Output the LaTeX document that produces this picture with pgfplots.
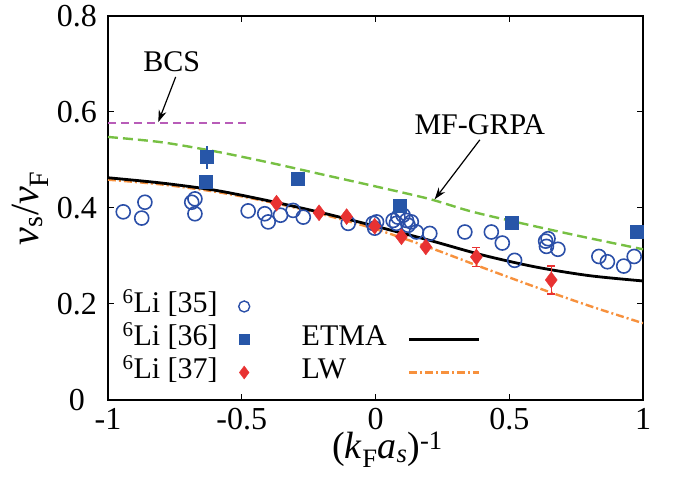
\documentclass[border=0pt]{standalone}
\usepackage{fontspec}
\setmainfont{Liberation Serif}
\usepackage{pgfplots}
\pgfplotsset{compat=1.18}
\usetikzlibrary{arrows.meta}

\definecolor{cblue}{RGB}{43,79,168}
\definecolor{sblue}{RGB}{39,86,168}
\definecolor{dred}{RGB}{232,50,50}
\definecolor{mfgreen}{RGB}{119,192,67}
\definecolor{lworange}{RGB}{247,145,61}
\definecolor{bcspurple}{RGB}{184,92,184}

\pgfplotsset{longline legend/.style={legend image code/.code={\draw[##1] (0pt,0pt) -- (70pt,0pt);}}}

\begin{document}
\begin{tikzpicture}
\path[use as bounding box] (-108pt,-78pt) rectangle (566pt,400pt);
\begin{axis}[
  scale only axis,
  width=535pt, height=384pt,
  xmin=-1, xmax=1, ymin=0, ymax=0.8,
  xtick={-1,-0.5,0,0.5,1},
  ytick={0,0.2,0.4,0.6,0.8},
  tick align=inside,
  major tick length=6pt,
  axis line style={line width=1.3pt},
  every tick/.style={black, line width=1pt},
  /pgf/number format/assume math mode=true,
  tick label style={font=\fontsize{32}{32}\selectfont},
  xticklabel style={yshift=-5pt},
  yticklabel style={text width=48pt, align=center, inner sep=0pt, xshift=-7pt},
  every axis y label/.style={at={(rel axis cs:0,0.5)}, xshift=-78pt, rotate=90, anchor=center},
  every axis x label/.style={at={(rel axis cs:0.5,0)}, xshift=12pt, yshift=-50pt, anchor=center},
  ylabel={\fontsize{40}{40}\selectfont\textit{ν}\textsubscript{s}/\textit{ν}\textsubscript{F}},
  xlabel={\fontsize{38}{38}\selectfont(\textit{k}\textsubscript{F}\textit{a}\textsubscript{\textit{s}})\textsuperscript{-1}},
  legend plot pos=right,
  legend cell align=left,
  legend columns=2,
  legend style={at={(rel axis cs:0.025,0.287)}, anchor=north west, draw=none, fill=none,
    inner sep=0pt, font=\fontsize{30}{30}\selectfont,
    nodes={inner sep=1pt, text height=22pt, text depth=9pt},
    /tikz/column 1/.style={column sep=20pt},
    /tikz/column 2/.style={column sep=51pt},
    /tikz/column 3/.style={column sep=20pt}},
]
% theory curves
\addplot[forget plot, bcspurple, line width=2.2pt, dash pattern=on 8pt off 5pt]
  coordinates {(-1,0.577) (-0.47,0.577)};
\addplot[forget plot, mfgreen, line width=2.4pt, dash pattern=on 10pt off 5pt, smooth]
  coordinates {(-1,0.548) (-0.8,0.537) (-0.6,0.518) (-0.4,0.495) (-0.2,0.470) (0,0.445)
               (0.2,0.419) (0.35,0.394) (0.5,0.374) (0.75,0.343) (1,0.314)};
\addplot[forget plot, lworange, line width=2.4pt, dash pattern=on 8pt off 3pt on 2pt off 3pt, smooth]
  coordinates {(-1,0.459) (-0.8,0.449) (-0.6,0.434) (-0.4,0.413) (-0.2,0.387) (0,0.356)
               (0.2,0.318) (0.4,0.276) (0.6,0.235) (0.8,0.196) (1,0.160)};
\addplot[forget plot, black, line width=2.8pt, smooth]
  coordinates {(-1,0.463) (-0.8,0.452) (-0.6,0.437) (-0.4,0.415) (-0.2,0.390) (0,0.362)
               (0.2,0.333) (0.4,0.302) (0.6,0.277) (0.8,0.259) (1,0.248)};

% 6Li [35]
\addplot[forget plot, only marks, mark=o, mark size=7pt, cblue, mark options={line width=1.6pt}]
  coordinates {
  (-0.943,0.392) (-0.874,0.379) (-0.862,0.412) (-0.687,0.412) (-0.675,0.419) (-0.675,0.388)
  (-0.476,0.394) (-0.414,0.388) (-0.401,0.371) (-0.355,0.385) (-0.308,0.395) (-0.270,0.381)
  (-0.102,0.368) (-0.009,0.368) (0.004,0.371) (-0.003,0.358) (0.066,0.374) (0.078,0.368)
  (0.084,0.381) (0.103,0.385) (0.116,0.374) (0.122,0.364) (0.134,0.371) (0.153,0.350)
  (0.203,0.347) (0.334,0.350) (0.433,0.350) (0.474,0.327) (0.520,0.291) (0.636,0.331)
  (0.645,0.336) (0.639,0.320) (0.682,0.314) (0.835,0.299) (0.867,0.288) (0.928,0.279)
  (0.967,0.299)};

% 6Li [36]
\addplot[forget plot, only marks, mark=square*, mark size=6.5pt, sblue,
  error bars/.cd, y dir=both, y explicit, error bar style={line width=1.5pt, sblue}, error mark=none]
  coordinates {
  (-0.634,0.454) +- (0,0)
  (-0.630,0.506) +- (0,0.024)
  (-0.290,0.460) +- (0,0.007)
  (0.091,0.404) +- (0,0.008)
  (0.508,0.369) +- (0,0)
  (0.975,0.351) +- (0,0)};

% 6Li [37]
\addplot[forget plot, only marks, mark=diamond*, mark size=8pt, dred,
  error bars/.cd, y dir=both, y explicit, error bar style={line width=1.5pt, dred},
  error mark options={rotate=90, mark size=4pt, line width=1.5pt, dred}]
  coordinates {
  (-0.370,0.410) +- (0,0)
  (-0.211,0.390) +- (0,0)
  (-0.108,0.382) +- (0,0)
  (-0.003,0.362) +- (0,0)
  (0.097,0.340) +- (0,0)
  (0.188,0.319) +- (0,0)
  (0.377,0.298) +- (0,0.02)
  (0.657,0.250) +- (0,0.029)};

% legend
\addlegendimage{only marks, mark=o, mark size=5.5pt, cblue, mark options={line width=1.4pt}}
\addlegendentry{\textsuperscript{6}Li [35]}
\addlegendimage{empty legend}
\addlegendentry{}
\addlegendimage{only marks, mark=square*, mark size=5pt, sblue}
\addlegendentry{\textsuperscript{6}Li [36]}
\addlegendimage{black, line width=2.8pt, longline legend}
\addlegendentry{ETMA}
\addlegendimage{only marks, mark=diamond*, mark size=6.5pt, dred}
\addlegendentry{\textsuperscript{6}Li [37]}
\addlegendimage{lworange, line width=2.4pt, dash pattern=on 8pt off 3pt on 2pt off 3pt, longline legend}
\addlegendentry{LW}

% annotations
\node[font=\fontsize{30}{30}\selectfont] at (axis cs:-0.762,0.705) {BCS};
\draw[-{Stealth[length=12pt,width=8pt]}, line width=1.2pt] (axis cs:-0.747,0.673) -- (axis cs:-0.812,0.579);
\node[font=\fontsize{30}{30}\selectfont] at (axis cs:0.390,0.573) {MF-GRPA};
\draw[-{Stealth[length=12pt,width=8pt]}, line width=1.2pt] (axis cs:0.390,0.542) -- (axis cs:0.221,0.418);
\end{axis}
\end{tikzpicture}
\end{document}
